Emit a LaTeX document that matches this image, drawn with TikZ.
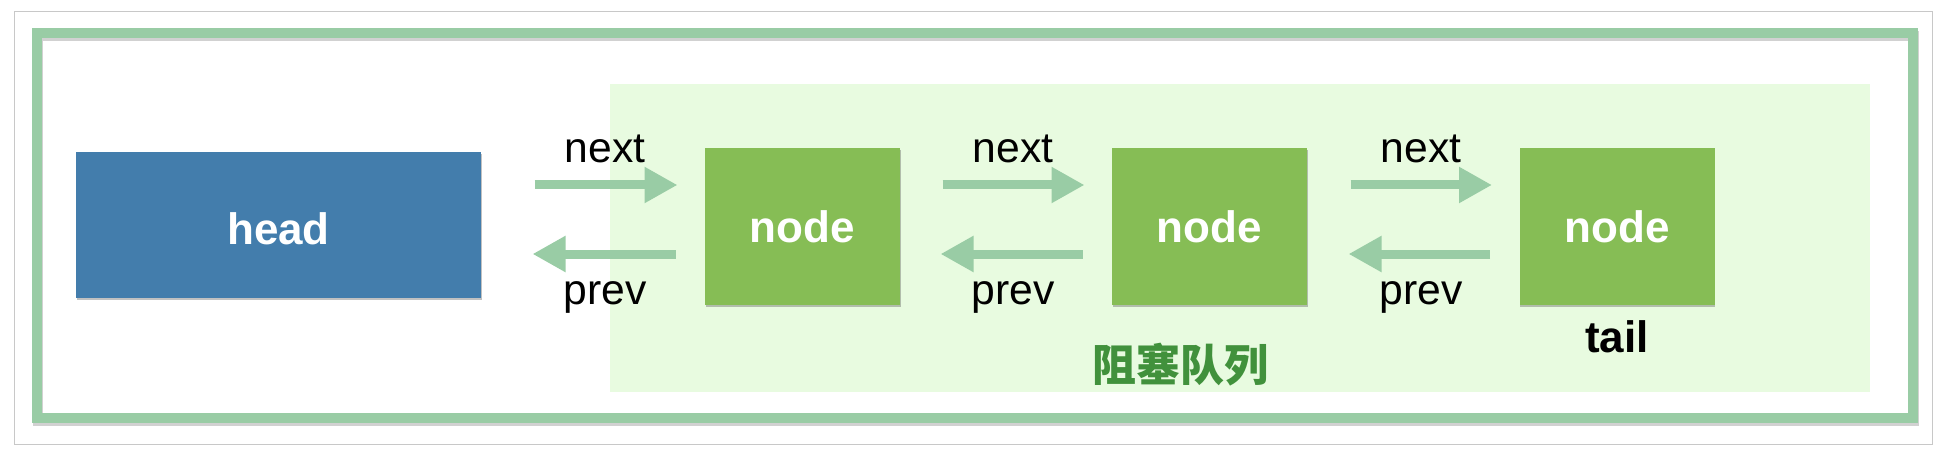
\documentclass[tikz,border=0pt]{standalone}
\usepackage{fontspec}
\setmainfont{Liberation Sans}
\newfontfamily\cjk{Noto Sans CJK SC}
\usetikzlibrary{arrows.meta,shadows}

\definecolor{headblue}{RGB}{67,125,172}
\definecolor{nodegreen}{RGB}{134,189,85}
\definecolor{linkgreen}{RGB}{153,204,165}
\definecolor{queuebg}{RGB}{232,251,224}
\definecolor{queuetext}{RGB}{65,145,60}
\definecolor{bordergray}{RGB}{200,200,200}

\tikzset{
	boxshadow/.style={drop shadow={shadow xshift=0.4pt, shadow yshift=-1.5pt, opacity=0.35, fill=black!70}},
	headbox/.style={fill=headblue, text=white, font=\fontsize{33}{40}\selectfont\bfseries,
		minimum width=303.75pt, minimum height=109.5pt, inner sep=0pt, text height=28.5pt, text depth=0pt, boxshadow},
	nodebox/.style={fill=nodegreen, text=white, font=\fontsize{33}{40}\selectfont\bfseries,
		minimum width=146.25pt, minimum height=117.75pt, inner sep=0pt, boxshadow},
	link/.style={draw=linkgreen, line width=6.75pt, -{Triangle[length=24.75pt,width=25.5pt]}},
	lbl/.style={font=\fontsize{32}{38}\selectfont, anchor=base, inner sep=0pt}
}
\tikzset{every picture/.style={line width=0.75pt}}

\begin{document}
\begin{tikzpicture}[x=0.75pt,y=0.75pt,yscale=-1,xscale=1]
	\useasboundingbox (0,0) rectangle (1948,456);

	% outer frame
	\draw [bordergray] (14,12) rectangle (1932,444);
	\draw [black, opacity=0.18, line width=7.5pt] (38,36) rectangle (1914,421);
	\draw [linkgreen, line width=7.5pt] (37,33) rectangle (1913,418);

	% blocking queue area
	\fill [queuebg] (610,84) rectangle (1870,392);

	% boxes
	\node [headbox] (head) at (278.5,225) {head};
	\node [nodebox] (n1) at (802.5,226.5) {node};
	\node [nodebox] (n2) at (1209.5,226.5) {node};
	\node [nodebox] (n3) at (1617,226.5) {node};

	% next links
	\draw [link] ([shift={(53,-40)}]head.east) -- ([shift={(-27,-41.5)}]n1.west);
	\draw [link] ([shift={(42,-41.5)}]n1.east) -- ([shift={(-27,-41.5)}]n2.west);
	\draw [link] ([shift={(43,-41.5)}]n2.east) -- ([shift={(-27,-41.5)}]n3.west);
	% prev links
	\draw [link] ([shift={(-29,27.5)}]n1.west) -- ([shift={(51,29)}]head.east);
	\draw [link] ([shift={(-29,27.5)}]n2.west) -- ([shift={(40,27.5)}]n1.east);
	\draw [link] ([shift={(-29,27.5)}]n3.west) -- ([shift={(41,27.5)}]n2.east);

	% Text Node
	\node [lbl] (nextA) at (605,162) {next};
	\node [lbl] (nextB) at (1013,162) {next};
	\node [lbl] (nextC) at (1421,162) {next};
	\node [lbl] (prevA) at (605,304) {prev};
	\node [lbl] (prevB) at (1013,304) {prev};
	\node [lbl] (prevC) at (1421,304) {prev};
	\node [lbl, font=\fontsize{33}{40}\selectfont\bfseries] (tail) at (1617,352) {tail};
	\node [anchor=base, inner sep=0pt, text=queuetext, font=\cjk\bfseries\fontsize{33}{40}\selectfont] (queue) at (1180,381) {阻塞队列};

\end{tikzpicture}
\end{document}
